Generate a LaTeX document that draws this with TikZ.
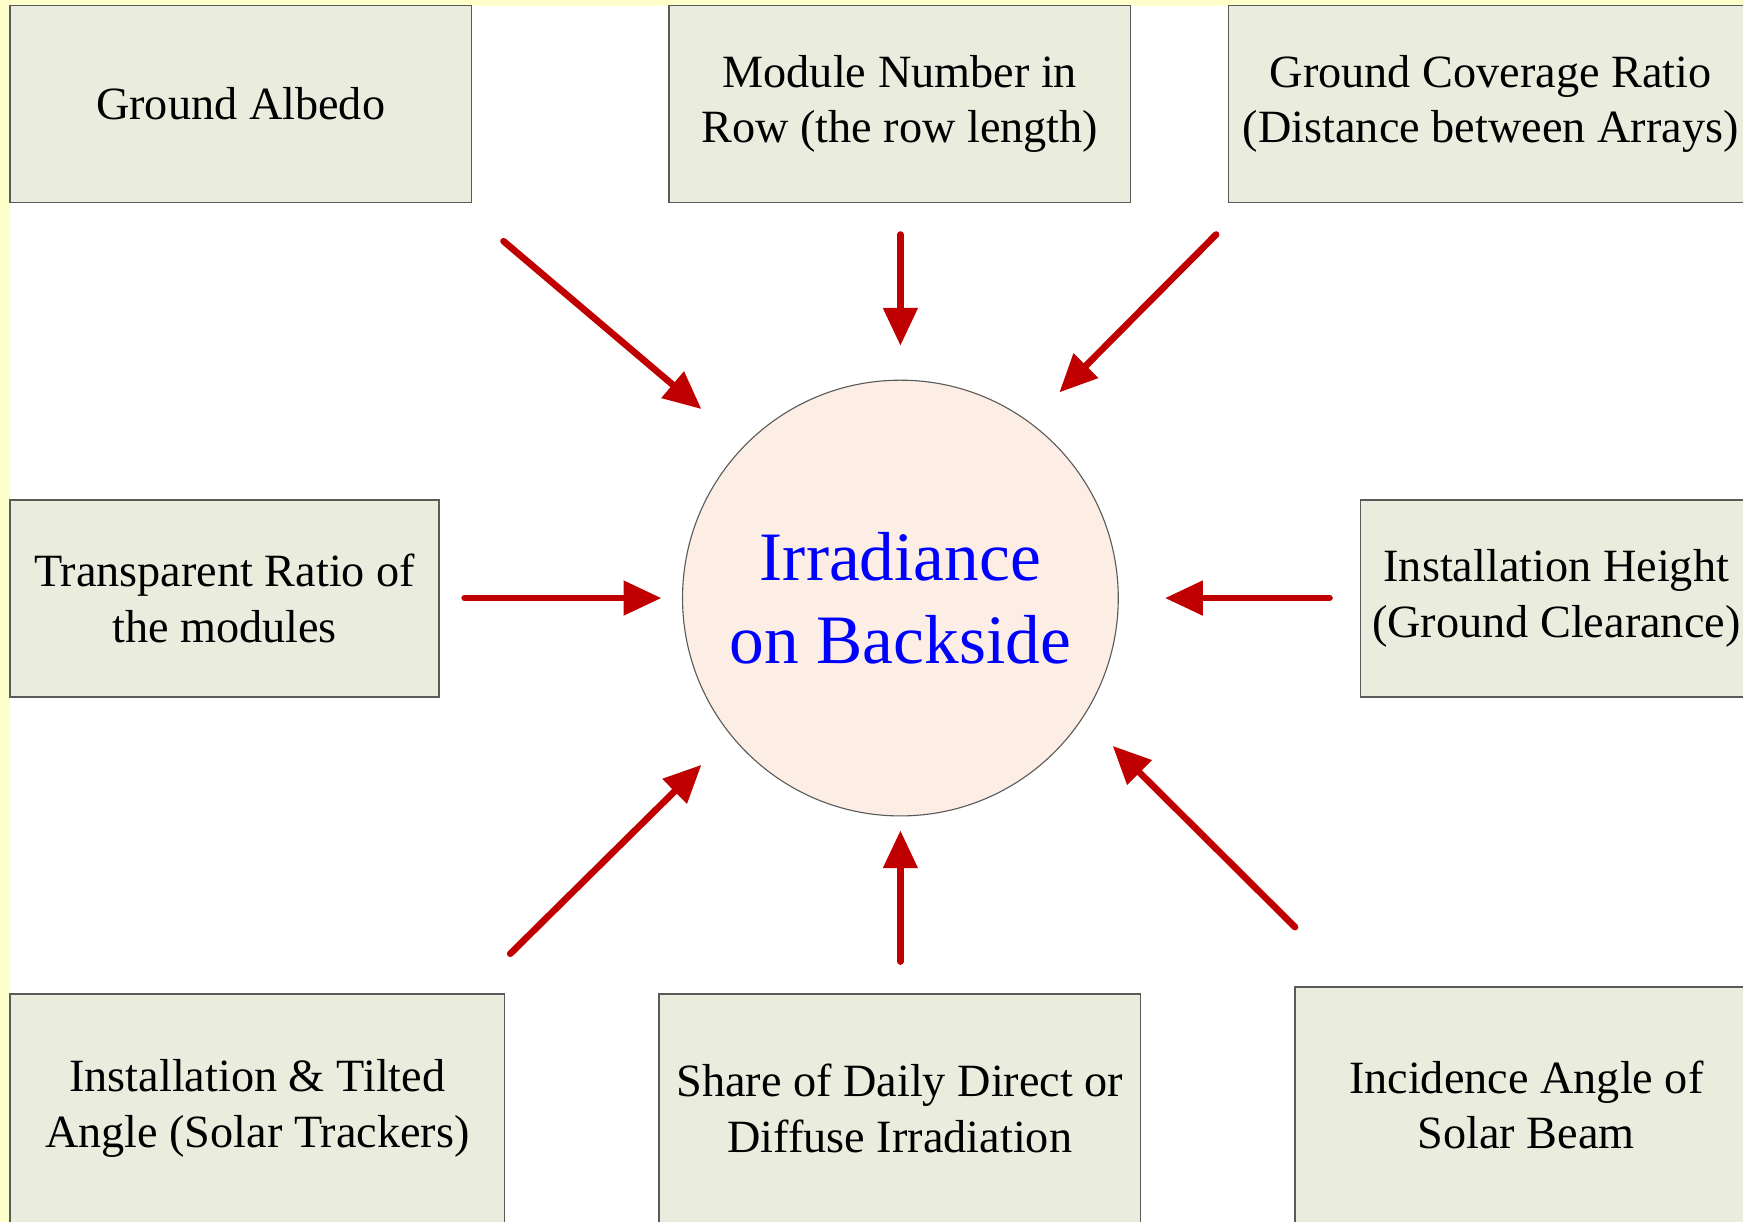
\documentclass[tikz,border=0pt]{standalone}
\usepackage{fontspec}
\setmainfont{Liberation Serif}
\usetikzlibrary{arrows.meta}
\definecolor{boxfill}{HTML}{EAEDDE}
\definecolor{boxline}{HTML}{5A5A5A}
\definecolor{circfill}{HTML}{FCEEE4}
\definecolor{arrowred}{HTML}{C00000}
\definecolor{bgyellow}{HTML}{FFFFCC}
\definecolor{textblue}{HTML}{0000FF}
\begin{document}
\begin{tikzpicture}[x=0.5pt,y=-0.5pt,
  factor/.style={draw=boxline, fill=boxfill, line width=0.7pt, align=center, inner sep=0pt,
    font=\fontsize{20.8}{25}\selectfont},
  target/.style={circle, draw=boxline, fill=circfill, line width=0.5pt, align=center, inner sep=0pt,
    minimum size=196pt, text=textblue, font=\fontsize{31.2}{37.5}\selectfont},
  flow/.style={draw=arrowred, line width=3pt, line cap=round,
    -{Triangle[length=17pt,width=15pt]}}]
\useasboundingbox (0,0) rectangle (1568,1099);
\clip (0,0) rectangle (1568,1099);
\fill[white] (0,0) rectangle (1568,1099);
\fill[bgyellow] (0,0) rectangle (1568,5);
\fill[bgyellow] (0,0) rectangle (9,1099);

% factor boxes
\node[factor, minimum width=207.5pt, minimum height=88.5pt] (albedo) at (216.5,93.5) {Ground Albedo};
\node[factor, minimum width=207.5pt, minimum height=88.5pt] (module) at (809.5,93.5) {Module Number in\\Row (the row length)};
\node[factor, minimum width=236pt, minimum height=88.5pt] (gcr) at (1341,93.5) {Ground Coverage Ratio\\(Distance between Arrays)};
\node[factor, minimum width=193pt, minimum height=88.5pt] (transp) at (202,538.5) {Transparent Ratio of\\the modules};
\node[factor, minimum width=176pt, minimum height=88.5pt] (height) at (1400,538.5) {Installation Height\\(Ground Clearance)};
\node[factor, minimum width=222.5pt, minimum height=103pt] (tilt) at (231.5,997) {Installation \& Tilted\\Angle (Solar Trackers)};
\node[factor, minimum width=216.5pt, minimum height=103pt] (share) at (809.5,997) {Share of Daily Direct or\\Diffuse Irradiation};
\node[factor, minimum width=208pt, minimum height=106pt] (incid) at (1373,994) {Incidence Angle of\\Solar Beam};

% central circle
\node[target] (irr) at (810,538) {Irradiance\\on Backside};

% arrow end points
\coordinate (a1s) at (453,217);  \coordinate (a1e) at (631,368);
\coordinate (a2s) at (810,211);  \coordinate (a2e) at (810,311);
\coordinate (a3s) at (1094,211); \coordinate (a3e) at (953,353);
\coordinate (a4s) at (418,538);  \coordinate (a4e) at (595,538);
\coordinate (a5s) at (1196,538); \coordinate (a5e) at (1048,538);
\coordinate (a6s) at (459,858);  \coordinate (a6e) at (631,688);
\coordinate (a7s) at (810,865);  \coordinate (a7e) at (810,747);
\coordinate (a8s) at (1165,834); \coordinate (a8e) at (1001,671);

\draw[flow] (a1s) -- (a1e);
\draw[flow] (a2s) -- (a2e);
\draw[flow] (a3s) -- (a3e);
\draw[flow] (a4s) -- (a4e);
\draw[flow] (a5s) -- (a5e);
\draw[flow] (a6s) -- (a6e);
\draw[flow] (a7s) -- (a7e);
\draw[flow] (a8s) -- (a8e);
\end{tikzpicture}
\end{document}
